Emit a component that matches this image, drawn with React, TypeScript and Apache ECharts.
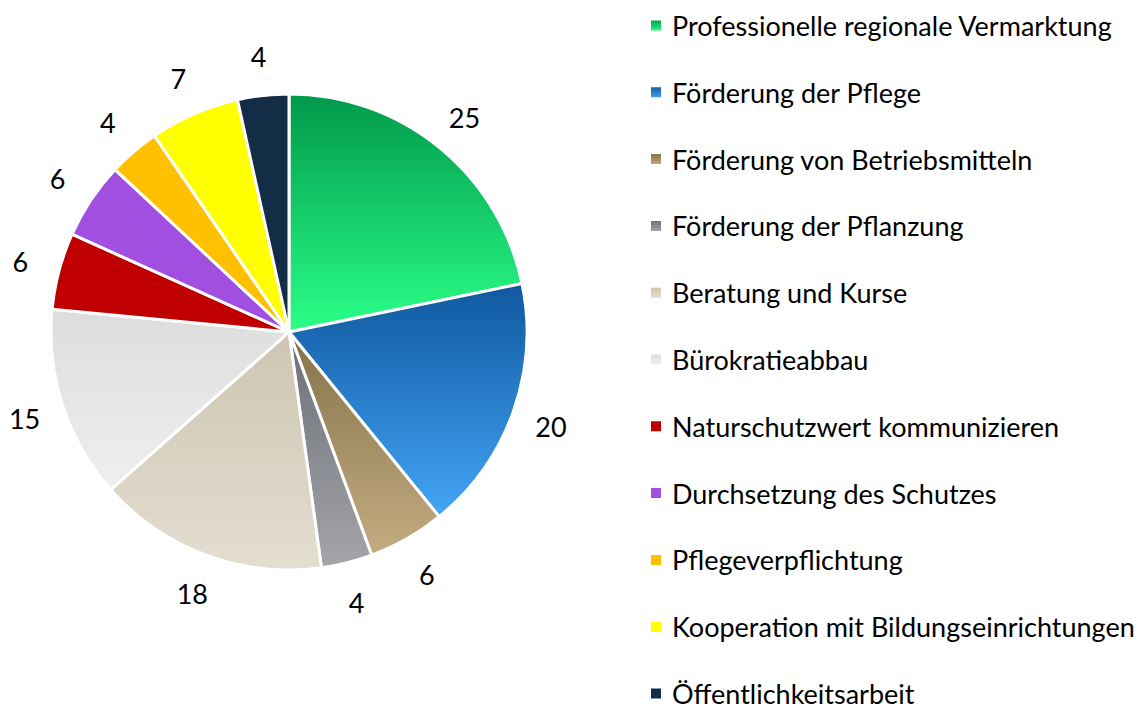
import React, { useEffect, useRef } from "react";
import * as echarts from "echarts";

const categories = [
  "Professionelle regionale Vermarktung",
  "Förderung der Pflege",
  "Förderung von Betriebsmitteln",
  "Förderung der Pflanzung",
  "Beratung und Kurse",
  "Bürokratieabbau",
  "Naturschutzwert kommunizieren",
  "Durchsetzung des Schutzes",
  "Pflegeverpflichtung",
  "Kooperation mit Bildungseinrichtungen",
  "Öffentlichkeitsarbeit",
];
const values = [25, 20, 6, 4, 18, 15, 6, 6, 4, 7, 4];

const colorTop = ["#00994A", "#10589F", "#857249", "#6A6E78", "#CEC5B1", "#DCDDDC", "#C00000", "#A04FE0", "#FFC000", "#FFFF00", "#132D46"];
const colorBottom = ["#2BFF88", "#43A5F5", "#C4AC82", "#A4A5A9", "#E4DED1", "#EEEFEE", "#C00000", "#A04FE0", "#FFC000", "#FFFF00", "#132D46"];

const FONT = "Lato";
const FONT_SIZE = 27;

export default function App() {
  const ref = useRef<HTMLDivElement>(null);
  useEffect(() => {
    if (!ref.current) return;
    const chart = echarts.init(ref.current, null, { renderer: "svg" });
    const mainData = categories.map((name, i) => ({
      name,
      value: values[i],
      itemStyle: {
        color: {
          type: "linear",
          x: 0, y: 0, x2: 0, y2: 1,
          colorStops: [
            { offset: 0, color: colorTop[i] },
            { offset: 1, color: colorBottom[i] },
          ],
        },
      },
    }));
    const labelData = categories.map((name, i) => ({ name, value: values[i] }));
    chart.setOption({
      animation: false,
      backgroundColor: "#ffffff",
      legend: {
        orient: "vertical",
        left: 649,
        top: 12,
        height: 800,
        padding: 0,
        itemWidth: 12,
        itemHeight: 12,
        itemGap: 39.8,
        icon: "rect",
        data: categories,
        textStyle: {
          fontFamily: FONT,
          fontSize: FONT_SIZE,
          color: "#000",
          padding: [0, 0, 0, 5],
        },
      },
      series: [
        {
          type: "pie",
          center: [289, 332],
          radius: [0, 238],
          startAngle: 90,
          clockwise: true,
          label: { show: false },
          labelLine: { show: false },
          itemStyle: { borderColor: "#ffffff", borderWidth: 3 },
          data: mainData,
        },
        {
          type: "pie",
          center: [289, 333],
          radius: [255, 295],
          startAngle: 90,
          clockwise: true,
          silent: true,
          itemStyle: { color: "rgba(0,0,0,0)", borderWidth: 0 },
          label: {
            show: true,
            position: "inside",
            formatter: "{c}",
            fontFamily: FONT,
            fontSize: FONT_SIZE,
            color: "#000",
          },
          labelLine: { show: false },
          data: labelData,
        },
      ],
    });
    return () => chart.dispose();
  }, []);
  return (
    <div
      ref={ref}
      style={{ position: "fixed", left: 0, top: 0, width: 1140, height: 709 }}
    />
  );
}
